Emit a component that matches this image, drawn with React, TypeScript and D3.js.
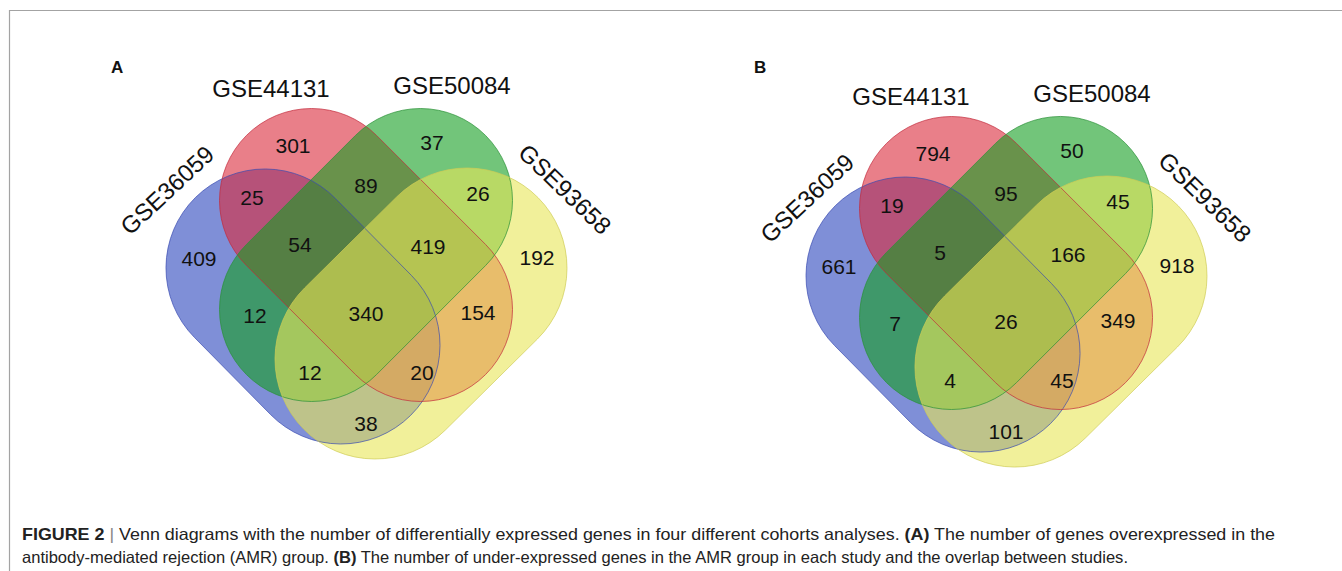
import React, { useEffect, useRef } from "react";
import * as d3 from "d3";

// cohort names (same four sets in both panels)
const setNames = ["GSE36059", "GSE44131", "GSE50084", "GSE93658"];

// region membership: 1=GSE36059, 2=GSE44131, 3=GSE50084, 4=GSE93658
const regionKeys = ["1", "2", "3", "4", "12", "23", "34", "123", "234", "13", "1234", "24", "134", "124", "14"];

// (A) overexpressed genes in AMR
const countsA = [409, 301, 37, 192, 25, 89, 26, 54, 419, 12, 340, 154, 12, 20, 38];
// (B) under-expressed genes in AMR
const countsB = [661, 794, 50, 918, 19, 95, 45, 5, 166, 7, 26, 349, 4, 45, 101];

const panelLetters = ["A", "B"];

const captionLine1 = [
  { t: "FIGURE 2", b: true },
  { t: " | ", b: false, c: "#888" },
  { t: "Venn diagrams with the number of differentially expressed genes in four different cohorts analyses. ", b: false },
  { t: "(A)", b: true },
  { t: " The number of genes overexpressed in the", b: false },
];
const captionLine2 = [
  { t: "antibody-mediated rejection (AMR) group. ", b: false },
  { t: "(B)", b: true },
  { t: " The number of under-expressed genes in the AMR group in each study and the overlap between studies.", b: false },
];

const W = 1342;
const H = 571;

// diagram geometry in diagram units (1 unit = 100px), origin at diagram centre
const capsules = [
  { p1: [-1.01, 0.13], p2: [-0.25, 0.9], r: 0.99, fill: "#2a45bd", stroke: "#3a4cb0" },
  { p1: [-0.545, -0.545], p2: [0.545, 0.545], r: 0.92, fill: "#db2a3a", stroke: "#c22a3a" },
  { p1: [0.545, -0.545], p2: [-0.545, 0.545], r: 0.92, fill: "#149f21", stroke: "#2a9036" },
  { p1: [1.01, 0.13], p2: [0.09, 1.04], r: 1.0, fill: "#e8e657", stroke: "#cfcc55" },
];

const regionAnchor: Record<string, [number, number]> = {
  "1": [-1.67, 0.03],
  "2": [-0.73, -1.1],
  "3": [0.66, -1.13],
  "4": [1.71, 0.02],
  "12": [-1.14, -0.58],
  "23": [0.0, -0.7],
  "34": [1.12, -0.62],
  "123": [-0.66, -0.11],
  "234": [0.62, -0.09],
  "13": [-1.11, 0.6],
  "1234": [0.0, 0.58],
  "24": [1.12, 0.57],
  "134": [-0.56, 1.17],
  "124": [0.56, 1.17],
  "14": [0.0, 1.68],
};

const setLabelAnchor = [
  { x: -1.99, y: -0.65, rot: -43 },
  { x: -0.95, y: -1.67, rot: 0 },
  { x: 0.86, y: -1.7, rot: 0 },
  { x: 1.99, y: -0.66, rot: 44 },
];

const panels = [
  { cx: 366, cy: 255, lx: 111, ly: 73 },
  { cx: 1006, cy: 263, lx: 754, ly: 73 },
];

const capsulePath = (c, x, y) => {
  const ax = x(c.p1[0]);
  const ay = y(c.p1[1]);
  const bx = x(c.p2[0]);
  const by = y(c.p2[1]);
  const r = x(c.r) - x(0);
  const th = Math.atan2(by - ay, bx - ax);
  const p = d3.path();
  p.moveTo(bx + r * Math.cos(th - Math.PI / 2), by + r * Math.sin(th - Math.PI / 2));
  p.arc(bx, by, r, th - Math.PI / 2, th + Math.PI / 2);
  p.arc(ax, ay, r, th + Math.PI / 2, th + (3 * Math.PI) / 2);
  p.closePath();
  return p.toString();
};

const App = () => {
  const svgRef = useRef(null);

  useEffect(() => {
    const svg = d3.select(svgRef.current);
    svg.selectAll("*").remove();

    const font = "'Liberation Sans', Arial, Helvetica, sans-serif";

    // frame
    svg.append("line").attr("x1", 9).attr("x2", W).attr("y1", 10.5).attr("y2", 10.5)
      .attr("stroke", "#a3a3a3").attr("stroke-width", 1.2);
    svg.append("line").attr("x1", 9.5).attr("x2", 9.5).attr("y1", 10).attr("y2", H)
      .attr("stroke", "#a3a3a3").attr("stroke-width", 1.2);

    [countsA, countsB].forEach((counts, pi) => {
      const p = panels[pi];
      const x = d3.scaleLinear().domain([-1, 1]).range([p.cx - 100, p.cx + 100]);
      const y = d3.scaleLinear().domain([-1, 1]).range([p.cy - 100, p.cy + 100]);
      const g = svg.append("g");

      g.selectAll("path.fill")
        .data(capsules)
        .join("path")
        .attr("class", "fill")
        .attr("d", (d) => capsulePath(d, x, y))
        .attr("fill", (d) => d.fill)
        .attr("fill-opacity", 0.6);

      g.selectAll("path.edge")
        .data(capsules)
        .join("path")
        .attr("class", "edge")
        .attr("d", (d) => capsulePath(d, x, y))
        .attr("fill", "none")
        .attr("stroke", (d) => d.stroke)
        .attr("stroke-opacity", 0.7)
        .attr("stroke-width", 1);

      g.selectAll("text.count")
        .data(regionKeys.map((k, i) => ({ k, v: counts[i] })))
        .join("text")
        .attr("class", "count")
        .attr("x", (d) => x(regionAnchor[d.k][0]))
        .attr("y", (d) => y(regionAnchor[d.k][1]))
        .attr("dy", "0.36em")
        .attr("text-anchor", "middle")
        .style("font-family", font)
        .style("font-size", "21px")
        .style("fill", "#111")
        .text((d) => d.v);

      g.selectAll("text.set")
        .data(setNames.map((n, i) => ({ n, a: setLabelAnchor[i] })))
        .join("text")
        .attr("class", "set")
        .attr("transform", (d) => `translate(${x(d.a.x)},${y(d.a.y)}) rotate(${d.a.rot})`)
        .attr("dy", "0.36em")
        .attr("text-anchor", "middle")
        .style("font-family", font)
        .style("font-size", "24px")
        .style("fill", "#111")
        .text((d) => d.n);

      g.append("text")
        .attr("x", p.lx)
        .attr("y", p.ly)
        .style("font-family", font)
        .style("font-size", "17px")
        .style("font-weight", "bold")
        .style("fill", "#111")
        .text(panelLetters[pi]);
    });

    // caption
    const capFont = "'Liberation Sans Narrow', 'Arial Narrow', 'Liberation Sans', sans-serif";
    [
      { parts: captionLine1, y: 540, len: 1253 },
      { parts: captionLine2, y: 563, len: 1106 },
    ].forEach((line) => {
      const t = svg.append("text")
        .attr("x", 22)
        .attr("y", line.y)
        .attr("textLength", line.len)
        .attr("lengthAdjust", "spacingAndGlyphs")
        .style("font-family", capFont)
        .style("font-size", "16.5px")
        .style("fill", "#222");
      line.parts.forEach((s) => {
        t.append("tspan")
          .style("font-weight", s.b ? "bold" : "normal")
          .style("fill", s.c || "#222")
          .text(s.t);
      });
    });
  }, []);

  return (
    <svg
      ref={svgRef}
      width={W}
      height={H}
      style={{ position: "absolute", left: 0, top: 0, background: "#fff" }}
    />
  );
};

export default App;
